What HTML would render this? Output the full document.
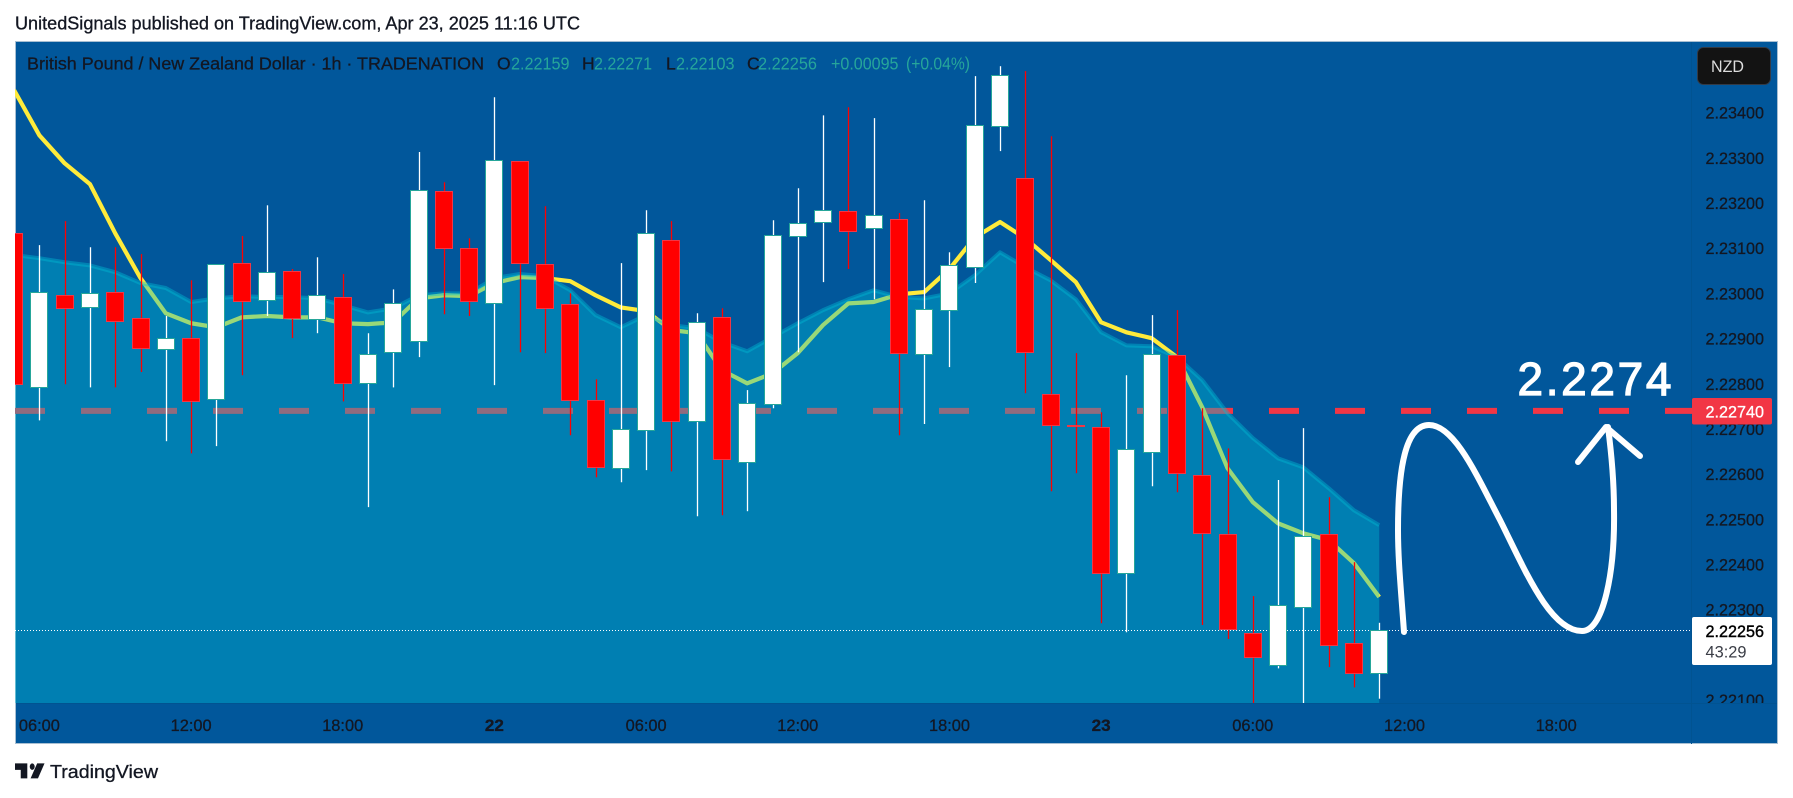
<!DOCTYPE html>
<html lang="en">
<head>
<meta charset="utf-8">
<title>GBPNZD 1h chart</title>
<style>
html,body{margin:0;padding:0;background:#fff;width:1793px;height:798px;overflow:hidden}
svg{display:block}
text{font-family:"Liberation Sans",sans-serif}
text[fill="#131722"]{stroke:#131722;stroke-width:0.3px}
</style>
</head>
<body>
<svg id="chart" xmlns="http://www.w3.org/2000/svg" width="1793" height="798" viewBox="0 0 1793 798">
  <defs>
    <clipPath id="plot-clip"><rect x="15" y="42" width="1677" height="661"/></clipPath>
    <clipPath id="axis-clip"><rect x="1692" y="42" width="86" height="661"/></clipPath>
  </defs>
  <rect x="0" y="0" width="1793" height="798" fill="#ffffff"/>
  <text x="15" y="29.5" font-size="18" fill="#131722" textLength="565" lengthAdjust="spacingAndGlyphs">UnitedSignals published on TradingView.com, Apr 23, 2025 11:16 UTC</text>
  <rect x="15.5" y="41.5" width="1762" height="702" fill="#01579b" stroke="#a8bfd2" stroke-width="1"/>
  <line x1="1691.5" y1="42" x2="1691.5" y2="744" stroke="#015391" stroke-width="1"/>
  <line x1="16" y1="703.5" x2="1777" y2="703.5" stroke="#015391" stroke-width="1"/>

  <g id="price-ticks" clip-path="url(#axis-clip)"></g>
  <g id="time-ticks"></g>

  <g clip-path="url(#plot-clip)">
    <line id="target-line" x1="15" x2="1692" stroke="#f23645" stroke-width="6" stroke-dasharray="30 36"/>
    <path id="ma-line" fill="none" stroke="#ffeb3b" stroke-width="4.2" stroke-linejoin="round"/>
    <path id="band-fill" fill="rgba(0,188,212,0.4)" stroke="none"/>
    <path id="band-stroke" fill="none" stroke="rgba(0,188,212,0.42)" stroke-width="4" stroke-linejoin="round"/>
    <line id="last-line" x1="15" x2="1692" stroke="#ffffff" stroke-width="1" stroke-dasharray="1 2"/>
    <g id="candles"></g>
    <path d="M1404 632 C1401 590 1398 560 1398 530 C1398 470 1405 425 1429 425 C1455 425 1478 478 1500 520 C1525 570 1550 631 1582 631 C1604 631 1615 570 1614 510 C1614 480 1611 450 1608 427" fill="none" stroke="#ffffff" stroke-width="6" stroke-linecap="round" stroke-linejoin="round"/>
    <path d="M1578 462 L1606 427 L1640 456" fill="none" stroke="#ffffff" stroke-width="6" stroke-linecap="round" stroke-linejoin="round"/>
  </g>

  <text x="1517.5" y="395" font-size="46" fill="#ffffff" stroke="#ffffff" stroke-width="1.2" textLength="154">2.2274</text>

  <g>
    <text x="27" y="69.5" font-size="17.5" fill="#131722" textLength="457" lengthAdjust="spacingAndGlyphs">British Pound / New Zealand Dollar · 1h · TRADENATION</text>
    <text x="497" y="69.5" font-size="17.5" fill="#131722">O</text>
    <text x="511" y="69.5" font-size="17.5" fill="#26a69a" textLength="58.5" lengthAdjust="spacingAndGlyphs">2.22159</text>
    <text x="582" y="69.5" font-size="17.5" fill="#131722">H</text>
    <text x="594" y="69.5" font-size="17.5" fill="#26a69a" textLength="58" lengthAdjust="spacingAndGlyphs">2.22271</text>
    <text x="666" y="69.5" font-size="17.5" fill="#131722">L</text>
    <text x="676" y="69.5" font-size="17.5" fill="#26a69a" textLength="58.5" lengthAdjust="spacingAndGlyphs">2.22103</text>
    <text x="747" y="69.5" font-size="17.5" fill="#131722">C</text>
    <text x="758" y="69.5" font-size="17.5" fill="#26a69a" textLength="59" lengthAdjust="spacingAndGlyphs">2.22256</text>
    <text x="831" y="69.5" font-size="17.5" fill="#26a69a" textLength="67.5" lengthAdjust="spacingAndGlyphs">+0.00095</text>
    <text x="906" y="69.5" font-size="17.5" fill="#26a69a" textLength="64" lengthAdjust="spacingAndGlyphs">(+0.04%)</text>
  </g>

  <g>
    <rect x="1697.5" y="47.5" width="73" height="37" rx="6" fill="#131313" stroke="#333a45" stroke-width="1"/>
    <text x="1711" y="72" font-size="16.5" fill="#dddddd" textLength="33" lengthAdjust="spacingAndGlyphs">NZD</text>
  </g>

  <g>
    <rect x="1692" y="398" width="80" height="26.5" rx="2" fill="#f23645"/>
    <text x="1705.5" y="417.3" font-size="17" fill="#ffffff" stroke="#ffffff" stroke-width="0.3" textLength="58.5" lengthAdjust="spacingAndGlyphs">2.22740</text>
  </g>
  <g>
    <rect x="1692" y="617" width="80" height="48" rx="2" fill="#ffffff"/>
    <text x="1705.5" y="636.8" font-size="17" fill="#000000" stroke="#000000" stroke-width="0.4" textLength="58.5" lengthAdjust="spacingAndGlyphs">2.22256</text>
    <text x="1705.5" y="657.5" font-size="17" fill="#3a3d46" textLength="41" lengthAdjust="spacingAndGlyphs">43:29</text>
  </g>

  <g>
    <g transform="translate(15 757) scale(0.82 1.07)" fill="#131722">
      <path d="M15 6H0v6h7v8h8V6z"/>
      <circle cx="21" cy="9" r="3"/>
      <path d="M36 6 L28 20 H19 L27 6 Z"/>
    </g>
    <text x="50" y="778" font-size="18.5" fill="#131722" textLength="108" lengthAdjust="spacingAndGlyphs">TradingView</text>
  </g>
</svg>

<script>
// Hourly bars, oldest first (the first bar is clipped by the left edge of the pane).
const opens = [2.23133,2.22792,2.22996,2.22969,2.23003,2.22945,2.22877,2.22901,2.22766,2.23067,2.22985,2.23049,2.22943,2.22992,2.22801,2.22870,2.22894,2.23226,2.23100,2.22978,2.23293,2.23065,2.22976,2.22764,2.22613,2.22697,2.23118,2.22717,2.22947,2.22626,2.22755,2.23127,2.23158,2.23182,2.23144,2.23164,2.22865,2.22963,2.23058,2.23370,2.23255,2.22777,2.22708,2.22704,2.22381,2.22649,2.22863,2.22598,2.22467,2.22248,2.22177,2.22305,2.22467,2.22226,2.22159];
const highs = [2.23133,2.23107,2.23160,2.23102,2.23102,2.23087,2.22950,2.23029,2.23065,2.23127,2.23195,2.23054,2.23080,2.23043,2.22912,2.23009,2.23313,2.23246,2.23122,2.23434,2.23293,2.23193,2.23000,2.22810,2.23067,2.23184,2.23160,2.22956,2.22967,2.22786,2.23162,2.23233,2.23394,2.23412,2.23388,2.23178,2.23206,2.23091,2.23481,2.23503,2.23492,2.23348,2.22868,2.22737,2.22819,2.22952,2.22963,2.22746,2.22657,2.22330,2.22587,2.22702,2.22549,2.22405,2.22271];
const lows = [2.22799,2.22719,2.22799,2.22792,2.22792,2.22826,2.22673,2.22646,2.22662,2.22819,2.22950,2.22901,2.22912,2.22761,2.22527,2.22792,2.22859,2.22954,2.22950,2.22797,2.22870,2.22868,2.22686,2.22593,2.22582,2.22609,2.22606,2.22507,2.22509,2.22518,2.22746,2.22870,2.23025,2.23054,2.22987,2.22686,2.22711,2.22837,2.23023,2.23315,2.22779,2.22562,2.22602,2.22270,2.22250,2.22573,2.22560,2.22266,2.22235,2.22091,2.22170,2.22091,2.22173,2.22128,2.22103];
const closes = [2.22799,2.23003,2.22967,2.23000,2.22938,2.22879,2.22901,2.22761,2.23065,2.22983,2.23047,2.22945,2.22996,2.22801,2.22865,2.22978,2.23228,2.23100,2.22983,2.23295,2.23067,2.22967,2.22764,2.22615,2.22699,2.23133,2.22717,2.22936,2.22633,2.22757,2.23129,2.23155,2.23184,2.23138,2.23173,2.22868,2.22965,2.23062,2.23372,2.23483,2.22870,2.22708,2.22706,2.22381,2.22655,2.22865,2.22602,2.22469,2.22257,2.22195,2.22310,2.22463,2.22221,2.22159,2.22256];

// Moving average drawn beneath the band, and the upper edge of the shaded band.
const maValues = [2.23450,2.23350,2.23288,2.23242,2.23133,2.23034,2.22956,2.22934,2.22925,2.22947,2.22950,2.22947,2.22947,2.22934,2.22932,2.22936,2.22989,2.22996,2.22994,2.23023,2.23036,2.23034,2.23027,2.22996,2.22969,2.22961,2.22919,2.22912,2.22830,2.22801,2.22823,2.22868,2.22930,2.22978,2.22981,2.22998,2.23003,2.23054,2.23124,2.23158,2.23122,2.23074,2.23025,2.22936,2.22914,2.22901,2.22859,2.22748,2.22613,2.22538,2.22491,2.22469,2.22454,2.22403,2.22328];
const bandTopValues = [2.23085,2.23078,2.23069,2.23062,2.23047,2.23023,2.23012,2.22981,2.22989,2.22994,2.22992,2.22992,2.22989,2.22974,2.22958,2.22967,2.22996,2.23000,2.23000,2.23034,2.23043,2.23038,2.23007,2.22952,2.22925,2.22952,2.22930,2.22923,2.22892,2.22872,2.22903,2.22934,2.22963,2.22987,2.23007,2.22992,2.22989,2.23000,2.23040,2.23091,2.23058,2.23029,2.22987,2.22914,2.22885,2.22883,2.22859,2.22808,2.22735,2.22680,2.22635,2.22615,2.22569,2.22520,2.22487];

const priceTicks = [2.234,2.233,2.232,2.231,2.230,2.229,2.228,2.227,2.226,2.225,2.224,2.223,2.222,2.221];
const timeTickLabels = ['06:00','12:00','18:00','22','06:00','12:00','18:00','23','06:00','12:00','18:00'];
const timeTickBars = [1,7,13,19,25,31,37,43,49,55,61];
const boldTimeTicks = ['22','23'];
const targetPrice = 2.2274;
const lastPrice = 2.22256;

const SVG_NS = 'http://www.w3.org/2000/svg';
function xOf(i) { return 14.1 + i * 25.28; }
function yOf(p) { return 112.7 + (2.234 - p) * 45180; }
function svgEl(tag, attrs) {
  const el = document.createElementNS(SVG_NS, tag);
  for (const k in attrs) el.setAttribute(k, attrs[k]);
  return el;
}
function linePath(values) {
  return values.map((v, i) => (i ? 'L' : 'M') + xOf(i).toFixed(2) + ' ' + yOf(v).toFixed(2)).join(' ');
}

// Price axis
const priceGroup = document.getElementById('price-ticks');
priceTicks.forEach(function (p) {
  const t = svgEl('text', { x: 1705.5, y: (yOf(p) + 6).toFixed(1), 'font-size': 17, fill: '#131722', textLength: 58.5, lengthAdjust: 'spacingAndGlyphs' });
  
  
  t.textContent = p.toFixed(5);
  priceGroup.appendChild(t);
});

// Time axis
const timeGroup = document.getElementById('time-ticks');
timeTickLabels.forEach(function (label, i) {
  const bold = boldTimeTicks.includes(label);
  const t = svgEl('text', { x: xOf(timeTickBars[i]).toFixed(1), y: 731, 'font-size': 16.5, fill: '#131722', 'text-anchor': 'middle', 'font-weight': bold ? 'bold' : 'normal', textLength: bold ? 19 : 41, lengthAdjust: 'spacingAndGlyphs' });
  
  
  t.textContent = label;
  timeGroup.appendChild(t);
});

// Price lines
const targetY = yOf(targetPrice);
const targetLine = document.getElementById('target-line');
targetLine.setAttribute('y1', targetY);
targetLine.setAttribute('y2', targetY);
const lastY = Math.round(yOf(lastPrice)) + 0.5;
const lastLine = document.getElementById('last-line');
lastLine.setAttribute('y1', lastY);
lastLine.setAttribute('y2', lastY);

// Moving average and band
document.getElementById('ma-line').setAttribute('d', linePath(maValues));
const bandLine = linePath(bandTopValues);
document.getElementById('band-stroke').setAttribute('d', bandLine);
const lastBandX = xOf(bandTopValues.length - 1).toFixed(2);
document.getElementById('band-fill').setAttribute('d', bandLine + ' L' + lastBandX + ' 703 L' + xOf(0).toFixed(2) + ' 703 Z');

// Candles
const candleGroup = document.getElementById('candles');
opens.forEach(function (o, i) {
  const c = closes[i];
  const up = c >= o;
  const cx = Math.round(xOf(i));
  const wick = svgEl('line', { x1: cx + 0.5, x2: cx + 0.5, y1: yOf(highs[i]).toFixed(1), y2: yOf(lows[i]).toFixed(1), stroke: up ? '#ffffff' : '#ff0000', 'stroke-width': 1.3 });
  
  
  candleGroup.appendChild(wick);
  const top = Math.round(yOf(Math.max(o, c))) + 0.5;
  const bottom = Math.round(yOf(Math.min(o, c))) + 0.5;
  const body = svgEl('rect', { x: cx - 8.5, y: top, width: 17, height: Math.max(bottom - top, 0), fill: up ? '#ffffff' : '#ff0000', stroke: up ? '#26a69a' : '#f23645', 'stroke-width': 1 });
  
  
  candleGroup.appendChild(body);
});
</script>
</body>
</html>
